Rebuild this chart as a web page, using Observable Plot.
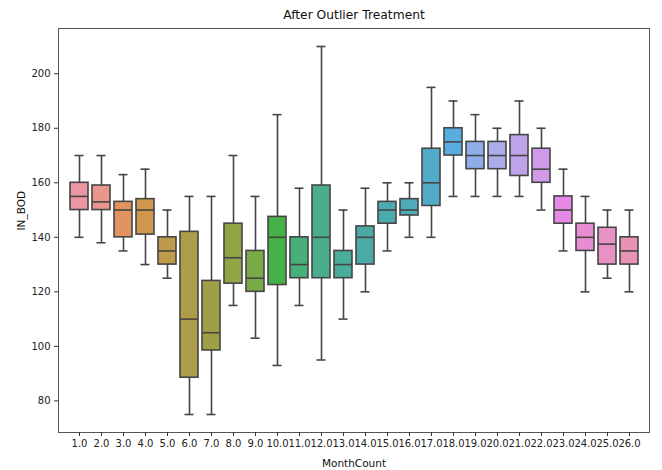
<!DOCTYPE html>
<html>
<head>
<meta charset="utf-8">
<script src="https://cdn.jsdelivr.net/npm/d3@7"></script>
<script src="https://cdn.jsdelivr.net/npm/@observablehq/plot@0.6"></script>
<style>
  html, body { margin: 0; padding: 0; background: white; }
</style>
</head>
<body>
<div id="chart"></div>
<script>
// ---- data ----
const months = ["1.0","2.0","3.0","4.0","5.0","6.0","7.0","8.0","9.0","10.0","11.0","12.0","13.0",
                "14.0","15.0","16.0","17.0","18.0","19.0","20.0","21.0","22.0","23.0","24.0","25.0","26.0"];
const whiskerLow  = [140,138,135,130,125,75,75,115,103,93,115,95,110,120,135,140,140,155,155,155,155,150,135,120,125,120];
const quartile1   = [150,150,140,141,130,88.5,98.5,123,120,122.5,125,125,125,130,145,148,151.5,170,165,165,162.5,160,145,135,130,130];
const medians     = [155,153,150,150,135,110,105,132.5,125,140,130,140,130,140,150,150,160,175,170,170,170,165,150,140,137.5,135];
const quartile3   = [160,159,153,154,140,142,124,145,135,147.5,140,159,135,144,153,154,172.5,180,175,175,177.5,172.5,155,145,143.5,140];
const whiskerHigh = [170,170,163,165,150,155,155,170,155,185,158,210,150,158,160,160,195,190,185,180,190,180,165,155,150,150];
const yTicks = [80,100,120,140,160,180,200];

const titleText = "After Outlier Treatment";
const xLabel = "MonthCount";
const yLabel = "IN_BOD";

// ---- seaborn-like husl palette (h=.01, s=.9, l=.7) desaturated to .75 ----
const Mx = [[3.2406, -1.5372, -0.4986], [-0.9689, 1.8758, 0.0415], [0.0557, -0.2040, 1.0570]];
const refY = 1.0, refU = 0.19784, refV = 0.46834, labE = 0.008856, labK = 903.3;
function maxChroma(L, H) {
  const hr = H * Math.PI / 180, sinH = Math.sin(hr), cosH = Math.cos(hr);
  const sub1 = Math.pow(L + 16, 3) / 1560896.0;
  const sub2 = sub1 > labE ? sub1 : L / labK;
  let result = Infinity;
  for (const [m1, m2, m3] of Mx) {
    const top = (0.99915 * m1 + 1.05122 * m2 + 1.14460 * m3) * sub2;
    const rb = 0.86330 * m3 - 0.17266 * m2;
    const lb = 0.12949 * m3 - 0.38848 * m1;
    const bottom = (rb * sinH + lb * cosH) * sub2;
    for (const t of [0, 1]) {
      const C = L * (top - 1.05122 * t) / (bottom + 0.17266 * sinH * t);
      if (C > 0 && C < result) result = C;
    }
  }
  return result;
}
function fInv(t) { return Math.pow(t, 3) > labE ? Math.pow(t, 3) : (116 * t - 16) / labK; }
function fromLinear(c) { return c <= 0.0031308 ? 12.92 * c : 1.055 * Math.pow(c, 1 / 2.4) - 0.055; }
function huslToRgb(H, S, L) {
  const C = maxChroma(L, H) / 100 * S;
  const hr = H * Math.PI / 180;
  const U = C * Math.cos(hr), V = C * Math.sin(hr);
  const varY = fInv((L + 16) / 116);
  const varU = U / (13 * L) + refU, varV = V / (13 * L) + refV;
  const Y = varY * refY;
  const X = 0 - (9 * Y * varU) / ((varU - 4) * varV - varU * varV);
  const Z = (9 * Y - 15 * varV * Y - varV * X) / (3 * varV);
  return Mx.map(r => Math.min(1, Math.max(0, fromLinear(r[0] * X + r[1] * Y + r[2] * Z))));
}
const n = months.length;
const fills = [];
let minL = 1;
for (let i = 0; i < n; i++) {
  const h = ((i / n) + 0.01) % 1 * 359;
  const [r, g, b] = huslToRgb(h, 0.9 * 99, 0.7 * 99);
  const c = d3.hsl(d3.rgb(r * 255, g * 255, b * 255));
  minL = Math.min(minL, c.l);
  c.s *= 0.75;
  fills.push(c.formatHex());
}
const lum = Math.round(minL * 0.6 * 255);
const gray = d3.rgb(lum, lum, lum).formatHex();

const rows = months.map((m, i) => ({
  m, low: whiskerLow[i], q1: quartile1[i], med: medians[i], q3: quartile3[i], high: whiskerHigh[i], c: fills[i]
}));

const lw = 1.6;
const capInset = 4.5;

const chart = Plot.plot({
  width: 662,
  height: 470,
  marginTop: 28,
  marginRight: 13,
  marginBottom: 38,
  marginLeft: 58,
  style: { fontFamily: "DejaVu Sans", fontSize: "10px", color: "#222", background: "white" },
  x: { type: "band", domain: months, paddingInner: 0.2, paddingOuter: 0.1, label: null },
  y: { domain: [68.4, 216.6], label: null },
  color: { type: "identity" },
  marks: [
    Plot.ruleX(rows, { x: "m", y1: "low", y2: "q1", stroke: gray, strokeWidth: lw }),
    Plot.ruleX(rows, { x: "m", y1: "q3", y2: "high", stroke: gray, strokeWidth: lw }),
    Plot.tickY(rows, { x: "m", y: "low", stroke: gray, strokeWidth: lw, insetLeft: capInset, insetRight: capInset }),
    Plot.tickY(rows, { x: "m", y: "high", stroke: gray, strokeWidth: lw, insetLeft: capInset, insetRight: capInset }),
    Plot.barY(rows, { x: "m", y1: "q1", y2: "q3", fill: "c", stroke: gray, strokeWidth: lw }),
    Plot.tickY(rows, { x: "m", y: "med", stroke: gray, strokeWidth: lw }),
    Plot.frame({ stroke: "#555", strokeWidth: 1 }),
    Plot.axisX({ tickSize: 4, tickPadding: 3, fontSize: 10, label: null, stroke: "#333" }),
    Plot.axisY({ ticks: yTicks, tickSize: 4, tickPadding: 4, fontSize: 10, label: null, stroke: "#333" }),
    Plot.text([titleText], { frameAnchor: "top", lineAnchor: "middle", dy: -13, text: d => d, fontSize: 12.3, fill: "#111" }),
    Plot.text([xLabel], { frameAnchor: "bottom", lineAnchor: "middle", dy: 31, text: d => d, fontSize: 10.5, fill: "#111" }),
    Plot.text([yLabel], { frameAnchor: "left", lineAnchor: "middle", dx: -37, rotate: -90, text: d => d, fontSize: 10.5, fill: "#111" })
  ]
});
document.getElementById("chart").appendChild(chart);
</script>
</body>
</html>
